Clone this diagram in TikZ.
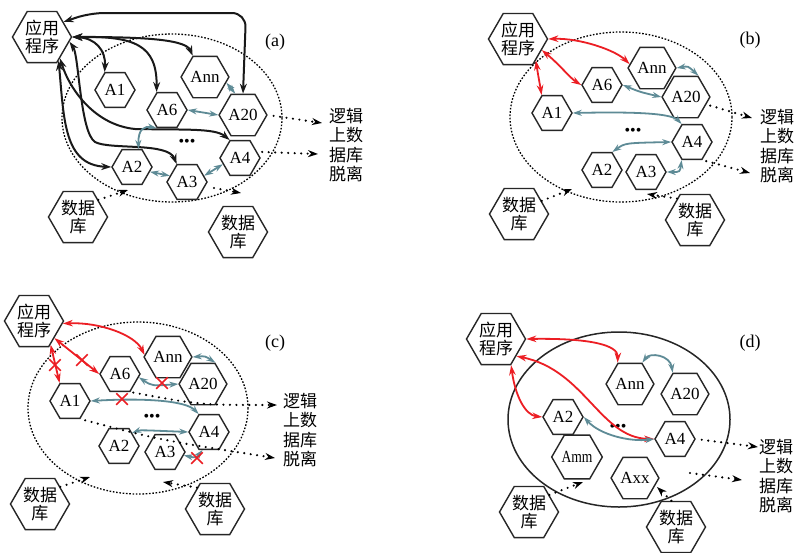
\documentclass[tikz,border=0pt]{standalone}
\usepackage{fontspec}
\setmainfont{Liberation Serif}
\newfontfamily\cjk{Noto Sans CJK SC}
\usetikzlibrary{shapes.geometric,shapes.misc,arrows.meta}
\definecolor{tealc}{RGB}{94,139,150}
\definecolor{redc}{RGB}{236,30,36}
\tikzset{
	hexa/.style={draw=black!85, line width=1.4pt, regular polygon, regular polygon sides=6, minimum size=40pt, inner sep=0pt, font=\fontsize{17}{17}\selectfont},
	bighexa/.style={hexa, minimum size=59pt, align=center, font=\cjk\fontsize{17}{18}\selectfont},
	blk/.style={draw=black!90, line width=2pt, {Stealth[length=10pt,width=7pt]}-{Stealth[length=10pt,width=7pt]}},
	tl/.style={draw=tealc, line width=1.8pt, {Stealth[length=9pt,width=6pt]}-{Stealth[length=9pt,width=6pt]}},
	rd/.style={draw=redc, line width=1.8pt, {Stealth[length=10pt,width=6.5pt]}-{Stealth[length=10pt,width=6.5pt]}},
	dotell/.style={line width=1.3pt, dash pattern=on 1.6pt off 1.7pt},
	dotarr/.style={line width=2.4pt, line cap=round, dash pattern=on 0pt off 6.5pt, -{Stealth[length=10pt,width=7pt]}},
	dbarr/.style={dotarr},
	xmark/.style={cross out, draw=redc, line width=1.5pt, minimum size=10pt, inner sep=0pt},
	sidetxt/.style={align=center, font=\cjk\fontsize{17}{19.5}\selectfont},
	panlab/.style={font=\fontsize{18}{18}\selectfont},
	dotrow/.style={font=\fontsize{16}{16}\selectfont},
}
\begin{document}
\begin{tikzpicture}[x=1pt,y=-1pt]
	\path[fill=white, use as bounding box] (0,0) rectangle (794,552);
	% (a)
	\node[bighexa] (a-app) at (42,37) {应用\\程序};
	\node[panlab] (a-lab) at (275,42) {(a)};
	\draw[dotell] (172,118) ellipse [x radius=110, y radius=84];
	\foreach \n/\x/\y/\t in {a-A1/115/90/A1, a-Ann/205/77/Ann, a-A6/167/110/A6, a-A20/243/115/A20, a-A2/132/167/A2, a-A3/187/182/A3, a-A4/240/158/A4}{
		\node[hexa] (\n) at (\x,\y) {\t};
	}
	\node[dotrow] (a-dots) at (187,143) {\textbullet\textbullet\textbullet};
	\node[bighexa] (a-db1) at (78,217) {数据\\库};
	\node[bighexa] (a-db2) at (238,232) {数据\\库};
	\node[sidetxt] (a-txt) at (346,145) {逻辑\\上数\\据库\\脱离};
	\draw[blk, rounded corners=14] (a-app.35) -- (90,13) -- (246,13) -- (a-A20.north);
	\draw[blk] (a-app.east) .. controls (95,38) and (106,50) .. (a-A1.120);
	\draw[blk] (a-app.east) .. controls (135,36) and (157,45) .. (a-A6.120);
	\draw[blk] (a-app.east) .. controls (130,37) and (185,38) .. (a-Ann.120);
	\draw[blk] (a-app.-50) .. controls (70,90) and (95,125) .. (135,129) .. controls (185,130) and (215,128) .. (a-A4.120);
	\draw[blk] (a-app.-55) .. controls (64,120) and (64,165) .. (a-A2.west);
	\draw[blk] (a-app.-10) .. controls (79,55) and (80,132) .. (95,142) .. controls (110,150) and (168,142) .. (a-A3.120);
	\draw[tl] (a-Ann.-15) -- (a-A20.110);
	\draw[tl] (a-A6.east) -- (a-A20.west);
	\draw[tl] (a-A2.70) .. controls (138,128) and (145,126) .. (a-A6.240);
	\draw[tl] (a-A2.-15) -- (a-A3.160);
	\draw[tl] (a-A3.20) -- (a-A4.200);
	\coordinate (a-e1) at (322,123);
	\coordinate (a-e2) at (318,154);
	\coordinate (a-e3) at (128,190);
	\coordinate (a-s4) at (214,188);
	\coordinate (a-e4) at (241,193);
	\draw[dotarr, shorten <=6pt] (a-A20.east) -- (a-e1);
	\draw[dotarr, shorten <=5pt] (a-A4.20) -- (a-e2);
	\draw[dbarr] (a-db1.40) -- (a-e3);
	\draw[dbarr] (a-s4) -- (a-e4);
	% (b)
	\node[bighexa] (b-app) at (518,39) {应用\\程序};
	\node[panlab] (b-lab) at (750,40) {(b)};
	\draw[dotell] (621,117) ellipse [x radius=111, y radius=85];
	\foreach \n/\x/\y/\t in {b-Ann/652/68/Ann, b-A6/602/85/A6, b-A20/686/97/A20, b-A1/552/113/A1, b-A4/692/142/A4, b-A2/602/170/A2, b-A3/646/172/A3}{
		\node[hexa] (\n) at (\x,\y) {\t};
	}
	\node[dotrow] (b-dots) at (633,132) {\textbullet\textbullet\textbullet};
	\node[bighexa] (b-db1) at (519,214) {数据\\库};
	\node[bighexa] (b-db2) at (695,220) {数据\\库};
	\node[sidetxt] (b-txt) at (777,146) {逻辑\\上数\\据库\\脱离};
	\draw[rd] (b-app.east) .. controls (580,38) and (615,50) .. (b-Ann.170);
	\draw[rd] (b-app.-25) .. controls (560,65) and (570,78) .. (b-A6.west);
	\draw[rd] (b-app.-50) .. controls (538,75) and (540,85) .. (b-A1.120);
	\draw[tl] (b-Ann.east) .. controls (688,66) .. (b-A20.60);
	\draw[tl] (b-A6.east) .. controls (640,92) .. (b-A20.west);
	\draw[tl] (b-A1.east) .. controls (620,112) and (670,112) .. (b-A4.120);
	\draw[tl] (b-A2.60) .. controls (625,143) .. (b-A4.west);
	\draw[tl] (b-A3.east) .. controls (680,172) .. (b-A4.240);
	\coordinate (b-e1) at (752,118);
	\coordinate (b-e2) at (750,173);
	\coordinate (b-e3) at (572,189);
	\coordinate (b-e4) at (647,194);
	\draw[dotarr, shorten <=4pt] (b-A20.-20) -- (b-e1);
	\draw[dotarr, shorten <=4pt] (b-A4.-60) -- (b-e2);
	\draw[dbarr] (b-db1.30) -- (b-e3);
	\draw[dbarr] (b-db2.130) -- (b-e4);
	% (c)
	\node[bighexa] (c-app) at (34,321) {应用\\程序};
	\node[panlab] (c-lab) at (275,343) {(c)};
	\draw[dotell] (138,408) ellipse [x radius=110, y radius=86];
	\foreach \n/\x/\y/\t in {c-Ann/168/357/Ann, c-A6/120/374/A6, c-A20/203/384/A20, c-A1/70/401/A1, c-A4/209/432/A4, c-A2/119/446/A2, c-A3/165/452/A3}{
		\node[hexa] (\n) at (\x,\y) {\t};
	}
	\node[dotrow] (c-dots) at (152,418) {\textbullet\textbullet\textbullet};
	\node[bighexa] (c-db1) at (40,504) {数据\\库};
	\node[bighexa] (c-db2) at (215,509) {数据\\库};
	\node[sidetxt] (c-txt) at (300,430) {逻辑\\上数\\据库\\脱离};
	\draw[rd] (c-app.-5) .. controls (100,322) and (135,335) .. (c-Ann.175);
	\draw[rd] (c-app.-40) -- (c-A6.west);
	\draw[rd] (c-app.-55) -- (c-A1.120);
	\draw[tl] (c-Ann.east) .. controls (205,356) .. (c-A20.60);
	\draw[tl] (c-A6.-10) .. controls (152,386) .. (c-A20.west);
	\draw[tl] (c-A1.east) .. controls (140,398) and (185,400) .. (c-A4.120);
	\draw[tl] (c-A2.45) .. controls (140,430) .. (c-A4.west);
	\draw[tl] (c-A3.-10) .. controls (196,458) .. (c-A4.250);
	\foreach \n/\x/\y in {c-x1/82/360, c-x2/55/365, c-x3/162/383, c-x4/122/399, c-x5/197/458}{
		\node[xmark] (\n) at (\x,\y) {};
	}
	\coordinate (c-e1) at (277,405);
	\coordinate (c-e2) at (275,458);
	\coordinate (c-e3) at (90,477);
	\coordinate (c-e4) at (163,482);
	\draw[dotarr, shorten <=3pt] (c-A6.-60) .. controls (200,405) .. (c-e1);
	\draw[dotarr, shorten <=5pt] (c-A1.-60) .. controls (160,440) .. (c-e2);
	\draw[dbarr] (c-db1.40) -- (c-e3);
	\draw[dbarr] (c-db2.130) -- (c-e4);
	% (d)
	\node[bighexa] (d-app) at (496,339) {应用\\程序};
	\node[panlab] (d-lab) at (750,343) {(d)};
	\draw[draw=black!85, line width=1.5pt] (619,419.5) ellipse [x radius=111, y radius=87.5];
	\foreach \n/\x/\y/\t in {d-Ann/630/384/Ann, d-A20/685/394/A20, d-A2/563/417/A2, d-A4/675/439/A4, d-Amm/577/457/{\scalebox{0.8}[1]{Amm}}, d-Axx/635/478/Axx}{
		\node[hexa] (\n) at (\x,\y) {\t};
	}
	\node[dotrow] (d-dots) at (618,428) {\textbullet\textbullet\textbullet};
	\node[bighexa] (d-db1) at (529,512) {数据\\库};
	\node[bighexa] (d-db2) at (676,527) {数据\\库};
	\node[sidetxt] (d-txt) at (776,476) {逻辑\\上数\\据库\\脱离};
	\draw[rd] (d-app.east) .. controls (590,338) and (618,345) .. (d-Ann.120);
	\draw[rd] (d-app.-40) .. controls (585,370) and (600,438) .. (d-A4.west);
	\draw[rd] (d-app.-60) .. controls (515,395) and (525,415) .. (d-A2.west);
	\draw[tl] (d-Ann.60) .. controls (650,352) and (670,355) .. (d-A20.120);
	\draw[tl] (d-A2.east) .. controls (600,435) and (630,442) .. (d-A4.west);
	\coordinate (d-e1) at (758,447);
	\coordinate (d-s2) at (690,473);
	\coordinate (d-e2) at (742,480);
	\coordinate (d-e3) at (583,482);
	\coordinate (d-e4) at (657,487);
	\draw[dotarr, shorten <=6pt] (d-A4.east) -- (d-e1);
	\draw[dotarr] (d-s2) -- (d-e2);
	\draw[dbarr] (d-db1.40) -- (d-e3);
	\draw[dbarr] (d-db2.100) -- (d-e4);
\end{tikzpicture}
\end{document}
